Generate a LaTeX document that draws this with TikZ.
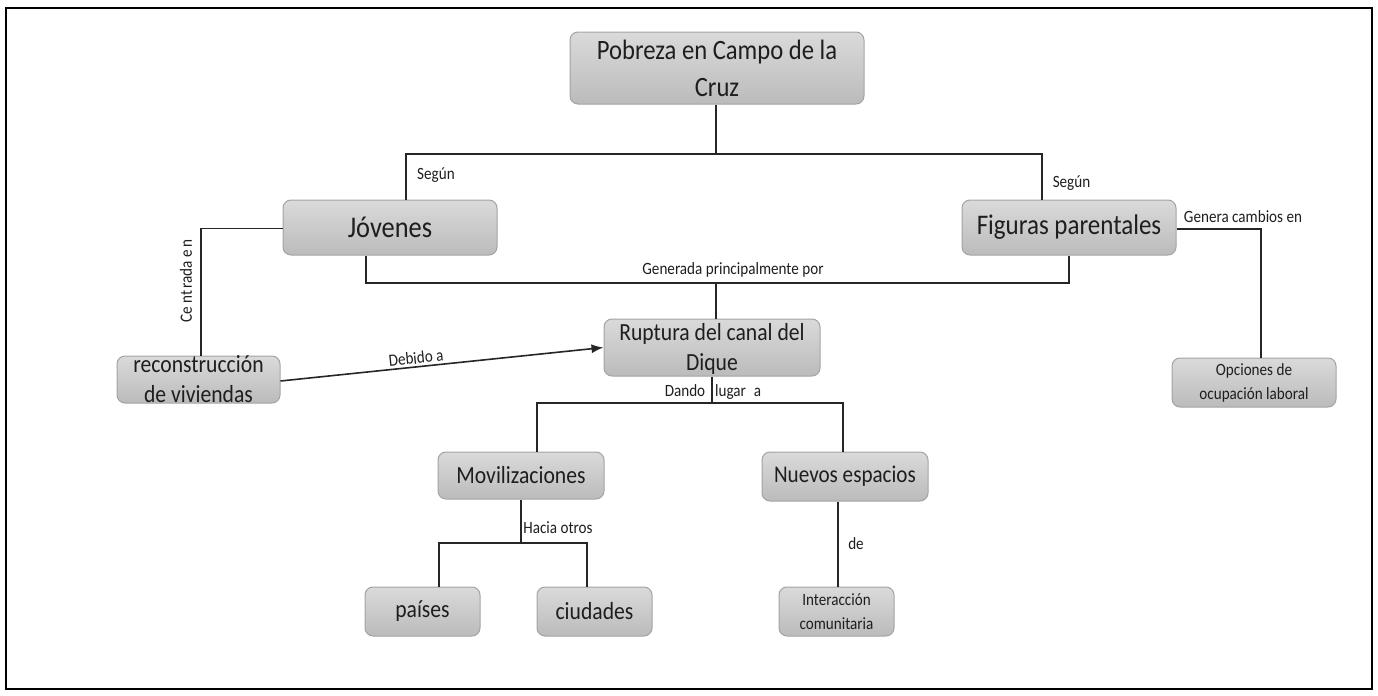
\documentclass[tikz,border=0pt]{standalone}
\usepackage{fontspec}
\setmainfont{Carlito}[FakeStretch=0.88]
\usetikzlibrary{arrows.meta}
\definecolor{boxtop}{HTML}{DADADA}
\definecolor{boxbot}{HTML}{BBBBBB}
\definecolor{boxline}{HTML}{A3A3A3}
\definecolor{ink}{HTML}{1E1E1E}
\begin{document}
\begin{tikzpicture}[x=0.5pt,y=-0.5pt,
  box/.style={rectangle, rounded corners=4pt, draw=boxline, line width=0.5pt, top color=boxtop, bottom color=boxbot, inner sep=0pt},
  txt/.style={text=ink, align=center, inner sep=0pt},
  lbl/.style={text=ink, inner sep=0pt, font=\fontsize{8.6}{10}\selectfont},
  conn/.style={line width=0.8pt, draw=black!85}]
\useasboundingbox (0,0) rectangle (1378,696);
\draw[line width=1.3pt] (6,8) rectangle (1372,689);

% boxes
\node[box, minimum width=147pt, minimum height=36pt] (pob) at (717,68) {};
\node[box, minimum width=107pt, minimum height=27.5pt] (jov) at (390,227.5) {};
\node[box, minimum width=107pt, minimum height=27.5pt] (fig) at (1069,227.5) {};
\node[box, minimum width=108pt, minimum height=28.5pt] (rup) at (712,347.5) {};
\node[box, minimum width=81.5pt, minimum height=23.5pt] (rec) at (198.5,379.5) {};
\node[box, minimum width=82pt, minimum height=24.5pt] (opc) at (1254,382.5) {};
\node[box, minimum width=83pt, minimum height=23.5pt] (mov) at (521,475.5) {};
\node[box, minimum width=83pt, minimum height=24.5pt] (nue) at (845,476.5) {};
\node[box, minimum width=57.5pt, minimum height=24.5pt] (pai) at (422.5,611.5) {};
\node[box, minimum width=57.5pt, minimum height=24.5pt] (ciu) at (594.5,611.5) {};
\node[box, minimum width=57.5pt, minimum height=24.5pt] (int) at (836.5,611.5) {};

% texts
\node[txt, font=\fontsize{14}{18.5}\selectfont] (tpob) at (pob) {Pobreza en Campo de la\\Cruz};
\node[txt, font=\fontsize{15}{18}\selectfont] (tjov) at (jov) {Jóvenes};
\node[txt, font=\fontsize{14.2}{18}\selectfont] (tfig) at (fig) {Figuras parentales};
\node[txt, font=\fontsize{12.3}{15}\selectfont] (trup) at ([yshift=-0.5pt]rup) {Ruptura del canal del\\Dique};
\node[txt, font=\fontsize{12.3}{15}\selectfont] (trec) at (rec) {reconstrucción\\de viviendas};
\node[txt, font=\fontsize{8.6}{12}\selectfont] (topc) at (opc) {Opciones de\\ocupación laboral};
\node[txt, font=\fontsize{12.3}{15}\selectfont] (tmov) at (mov) {Movilizaciones};
\node[txt, font=\fontsize{12}{15}\selectfont] (tnue) at (nue) {Nuevos espacios};
\node[txt, font=\fontsize{12.3}{15}\selectfont] (tpai) at (pai) {países};
\node[txt, font=\fontsize{12.3}{15}\selectfont] (tciu) at (ciu) {ciudades};
\node[txt, font=\fontsize{8.6}{12}\selectfont] (tint) at (int) {Interacción\\comunitaria};

% connectors
\coordinate (top) at (716,154);
\draw[conn] (pob.south -| top) -- (top);
\draw[conn] ([xshift=8pt]jov.north) |- (top) -| ([xshift=-13.5pt]fig.north);

\coordinate (mid) at (716,283);
\draw[conn] ([xshift=-12pt]jov.south) |- (mid) -| (fig.south);
\draw[conn] (mid) -- (rup.north -| mid);

\coordinate (dl) at (712,403);
\draw[conn] (rup.south -| dl) -- (dl);
\draw[conn] ([xshift=8pt]mov.north) |- (dl) -| ([xshift=-1pt]nue.north);

\coordinate (ho) at (521,543);
\draw[conn] (mov.south) -- (ho);
\draw[conn] ([xshift=8.25pt]pai.north) |- (ho) -| ([xshift=-3.75pt]ciu.north);

\draw[conn] ([xshift=0.75pt]int.north) -- ([xshift=0.75pt]int.north |- nue.south);

\draw[conn] ([yshift=-0.75pt]fig.east) -| ([xshift=3.5pt]opc.north);
\draw[conn] ([yshift=-0.5pt]jov.west) -| ([xshift=1.25pt]rec.north);
\draw[conn, -{Latex[length=6pt,width=4.5pt]}] ([yshift=-0.75pt]rec.east) -- (rup.west);

% labels
\node[lbl] (l1) at (436,175) {Según};
\node[lbl] (l2) at (1071.5,183) {Según};
\node[lbl] (l3) at (733,270) {Generada principalmente por};
\node[lbl] (l4) at (1243,217) {Genera cambios en};
\node[lbl, rotate=90] (l5) at (186,281) {Ce\hspace{1.5pt}nt\hspace{1pt}rada\hspace{2pt}e\hspace{1pt}n};
\node[lbl, rotate=5.8] (l6) at (416,358) {Debido a};
\node[lbl] (l7) at (713,392) {Dando\hspace{5pt}lugar\hspace{4pt}a};
\node[lbl] (l8) at (558,528) {Hacia otros};
\node[lbl] (l9) at (856,544) {de};
\end{tikzpicture}
\end{document}
